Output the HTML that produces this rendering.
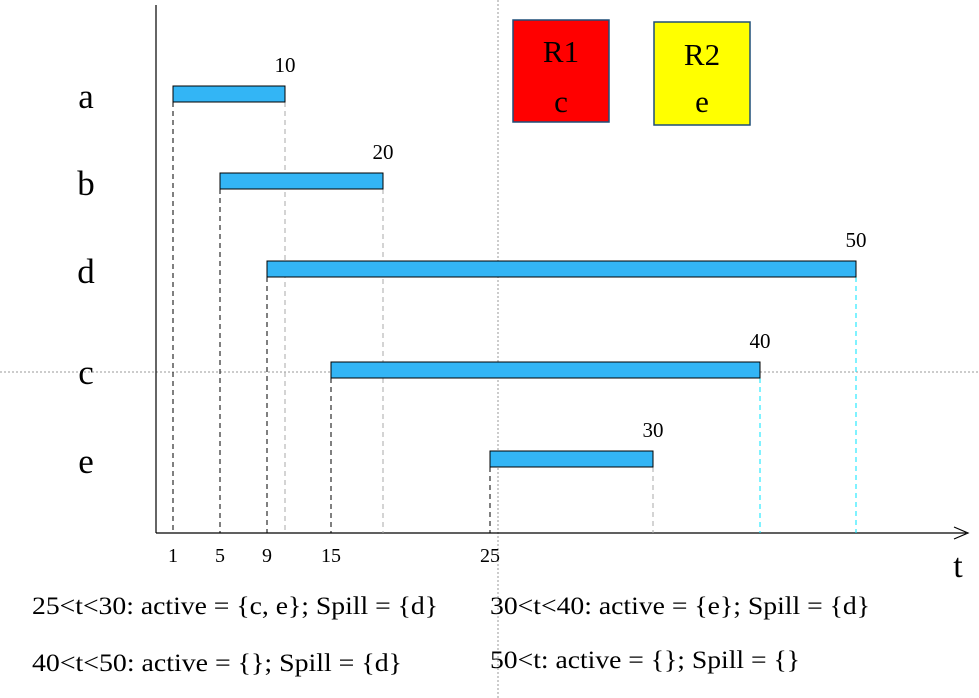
<!DOCTYPE html>
<html><head><meta charset="utf-8"><style>
body{margin:0;background:#fff}
svg{display:block;font-family:"Liberation Serif",serif}
</style></head><body>
<svg width="979" height="698" viewBox="0 0 979 698" id="chart">
<line x1="498" y1="0" x2="498" y2="698" stroke="#999" stroke-dasharray="2,2"/>
<line x1="0" y1="372" x2="979" y2="372" stroke="#999" stroke-dasharray="2,2"/>
<line x1="156" y1="5" x2="156" y2="533" stroke="#000" stroke-width="1.2"/>
<line x1="156" y1="533" x2="966" y2="533" stroke="#000" stroke-width="1.2"/>
<path d="M954 527 L968 533 L954 539" fill="none" stroke="#000" stroke-width="1.2"/>
<text x="958" y="577" font-size="34" text-anchor="middle">t</text>
<g id="marks"></g>
<rect x="513" y="20" width="96" height="102" fill="#ff0000" stroke="#1f4e79" stroke-width="1.5"/>
<text x="561" y="62" font-size="31" text-anchor="middle">R1</text>
<text x="561" y="112" font-size="31" text-anchor="middle">c</text>
<rect x="654" y="22" width="96" height="103" fill="#ffff00" stroke="#1f4e79" stroke-width="1.5"/>
<text x="702" y="65" font-size="31" text-anchor="middle">R2</text>
<text x="702" y="112" font-size="31" text-anchor="middle">e</text>
<g font-size="25">
<text x="32" y="614" textLength="406" lengthAdjust="spacingAndGlyphs">25&lt;t&lt;30: active = {c, e}; Spill = {d}</text>
<text x="490" y="614" textLength="380" lengthAdjust="spacingAndGlyphs">30&lt;t&lt;40: active = {e}; Spill = {d}</text>
<text x="32" y="671" textLength="370" lengthAdjust="spacingAndGlyphs">40&lt;t&lt;50: active = {}; Spill = {d}</text>
<text x="490" y="668" textLength="310" lengthAdjust="spacingAndGlyphs">50&lt;t: active = {}; Spill = {}</text>
</g>
</svg>
<script>
const names=["a","b","d","c","e"];
const starts=[1,5,9,15,25];
const ends=[10,20,50,40,30];
const tickLabels=[1,5,9,15,25];
const axisVals=[1,5,9,10,15,20,25,30,40,50];
const axisPx=[173,220,267,285,331,383,490,653,760,856];
function xScale(v){
  if(v<=axisVals[0])return axisPx[0]+(v-axisVals[0])*11.75;
  for(let i=1;i<axisVals.length;i++){
    if(v<=axisVals[i]){const t=(v-axisVals[i-1])/(axisVals[i]-axisVals[i-1]);return axisPx[i-1]+t*(axisPx[i]-axisPx[i-1]);}
  }
  const n=axisVals.length-1;return axisPx[n]+(v-axisVals[n])*9.6;
}
const rowY=[86,173,261,362,451];
const NS="http://www.w3.org/2000/svg";
const g=document.getElementById("marks");
function mk(tag,attrs){const e=document.createElementNS(NS,tag);for(const k in attrs)e.setAttribute(k,attrs[k]);g.appendChild(e);return e;}
names.forEach((n,i)=>{
  const x0=xScale(starts[i]),x1=xScale(ends[i]),y=rowY[i];
  let l=mk("line",{x1:x0,y1:y+16,x2:x0,y2:533,stroke:"#000","stroke-dasharray":"5,4"});
  
  
  const col=(ends[i]>=40)?"#00e5ff":"#aaa";
  l=mk("line",{x1:x1,y1:y+16,x2:x1,y2:533,stroke:col,"stroke-dasharray":"5,4"});
  
  
  const r=mk("rect",{x:x0,y:y,width:x1-x0,height:16,fill:"#33b5f5",stroke:"#000","stroke-width":1});
  
  
  const t=mk("text",{x:x1,y:y-14,"font-size":21,"text-anchor":"middle"});
  t.textContent=ends[i];
  
  
  const rl=mk("text",{x:86,y:y+22,"font-size":35,"text-anchor":"middle"});
  rl.textContent=n;
  
  
});
tickLabels.forEach(v=>{
  const t=mk("text",{x:xScale(v),y:562,"font-size":20,"text-anchor":"middle"});
  t.textContent=v;
  
  
});
</script>
</body></html>
